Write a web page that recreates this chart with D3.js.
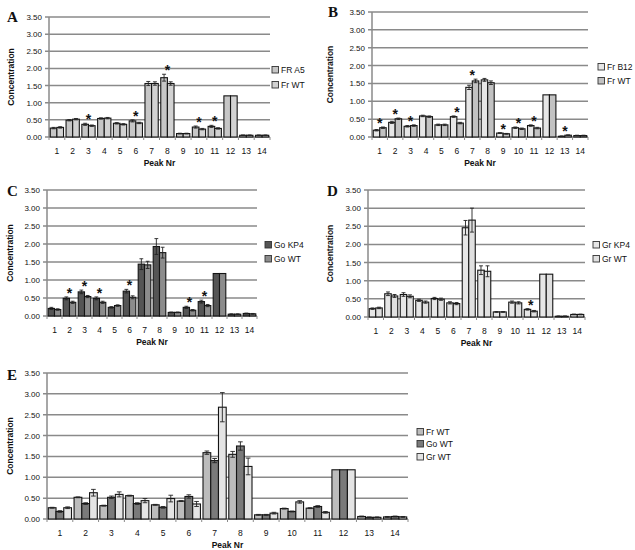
<!DOCTYPE html>
<html>
<head>
<meta charset="utf-8">
<script src="https://cdn.jsdelivr.net/npm/d3@7"></script>
<style>
body{margin:0;background:#fff;}
svg{font-family:"Liberation Sans",Arial,sans-serif;}
</style>
</head>
<body>
<div id="chart"></div>
<script>
var peaks=["1","2","3","4","5","6","7","8","9","10","11","12","13","14"];
var yTicks=[0,0.5,1,1.5,2,2.5,3,3.5];

// panel A
var frA5=[0.26,0.49,0.37,0.54,0.40,0.47,1.56,1.73,0.10,0.29,0.31,1.20,0.05,0.05];
var frA5Err=[0.02,0.02,0.03,0.02,0.02,0.03,0.06,0.10,0.01,0.03,0.03,0,0.01,0.01];
var frWT_A=[0.28,0.52,0.33,0.55,0.37,0.41,1.56,1.56,0.10,0.23,0.25,1.20,0.05,0.05];
var frWT_AErr=[0.02,0.02,0.02,0.02,0.02,0.02,0.05,0.05,0.01,0.02,0.02,0,0.01,0.01];
var starsA=["3","6","8","10","11"];
// panel B
var frB12=[0.19,0.41,0.30,0.59,0.34,0.57,1.39,1.60,0.11,0.26,0.32,1.18,0.02,0.04];
var frB12Err=[0.02,0.03,0.02,0.02,0.02,0.02,0.06,0.04,0.01,0.02,0.02,0,0.01,0.01];
var frWT_B=[0.26,0.51,0.32,0.57,0.34,0.39,1.57,1.52,0.09,0.23,0.25,1.18,0.05,0.04];
var frWT_BErr=[0.02,0.02,0.02,0.02,0.02,0.02,0.05,0.05,0.01,0.02,0.02,0,0.01,0.01];
var starsB=["1","2","3","6","7","9","10","11","13"];
// panel C
var goKP4=[0.21,0.49,0.67,0.49,0.24,0.69,1.44,1.93,0.10,0.24,0.40,1.18,0.05,0.07];
var goKP4Err=[0.03,0.04,0.05,0.04,0.02,0.05,0.15,0.22,0.01,0.03,0.04,0,0.01,0.01];
var goWT_C=[0.18,0.38,0.54,0.38,0.29,0.52,1.42,1.76,0.10,0.16,0.29,1.18,0.05,0.06];
var goWT_CErr=[0.02,0.03,0.03,0.03,0.02,0.04,0.10,0.15,0.01,0.02,0.03,0,0.01,0.01];
var starsC=["2","3","4","6","10","11"];
// panel D
var grKP4=[0.23,0.64,0.62,0.46,0.51,0.39,2.46,1.29,0.14,0.41,0.21,1.18,0.02,0.07];
var grKP4Err=[0.02,0.05,0.05,0.03,0.03,0.03,0.20,0.12,0.01,0.03,0.02,0,0.01,0.01];
var grWT_D=[0.25,0.58,0.57,0.41,0.49,0.37,2.67,1.26,0.14,0.39,0.16,1.18,0.02,0.07];
var grWT_DErr=[0.02,0.04,0.04,0.03,0.03,0.03,0.33,0.15,0.01,0.03,0.02,0,0.01,0.01];
var starsD=["11"];
// panel E
var frWT_E=[0.27,0.52,0.32,0.56,0.34,0.43,1.59,1.55,0.10,0.25,0.26,1.18,0.06,0.05];
var frWT_EErr=[0.01,0.01,0.01,0.01,0.01,0.01,0.04,0.07,0.01,0.01,0.01,0,0.01,0.01];
var goWT_E=[0.18,0.37,0.52,0.37,0.28,0.54,1.40,1.75,0.10,0.18,0.30,1.18,0.04,0.06];
var goWT_EErr=[0.02,0.02,0.03,0.02,0.02,0.04,0.05,0.10,0.01,0.01,0.02,0,0.01,0.01];
var grWT_E=[0.27,0.63,0.59,0.44,0.49,0.36,2.68,1.26,0.14,0.41,0.16,1.18,0.04,0.05];
var grWT_EErr=[0.02,0.08,0.06,0.05,0.08,0.06,0.35,0.20,0.02,0.03,0.02,0,0.01,0.01];
var starsE=[];

var svg=d3.select("#chart").append("svg")
	.attr("width",635)
	.attr("height",550);

function panel(p){
	var x=d3.scaleBand().domain(peaks).range([p.left,p.right]).paddingInner(p.pad).paddingOuter(p.pad/2);
	var xs=d3.scaleBand().domain(d3.range(p.series.length)).range([0,x.bandwidth()]);
	var y=d3.scaleLinear().domain([0,3.5]).range([p.bottom,p.top]);
	var g=svg.append("g");

	// gridlines
	g.selectAll(".grid").data(yTicks).enter().append("line")
		.attr("x1",p.left-4).attr("x2",p.right)
		.attr("y1",function(d){return y(d);}).attr("y2",function(d){return y(d);})
		.attr("stroke","#8a8a8a").attr("stroke-width",1.5);
	g.append("line").attr("x1",p.left).attr("x2",p.left)
		.attr("y1",p.top).attr("y2",p.bottom)
		.attr("stroke","#8a8a8a").attr("stroke-width",1.5);
	// y labels
	g.selectAll(".yl").data(yTicks).enter().append("text")
		.attr("x",p.left-7).attr("y",function(d){return y(d)+3;})
		.attr("text-anchor","end").attr("font-size",8).attr("fill","#111")
		.text(function(d){return d3.format(".2f")(d);});
	// x ticks between categories
	g.selectAll(".xt").data(d3.range(15)).enter().append("line")
		.attr("x1",function(i){return p.left+i*(p.right-p.left)/14;})
		.attr("x2",function(i){return p.left+i*(p.right-p.left)/14;})
		.attr("y1",p.bottom).attr("y2",p.bottom+3)
		.attr("stroke","#8a8a8a").attr("stroke-width",1);
	g.selectAll(".xl").data(peaks).enter().append("text")
		.attr("x",function(d){return x(d)+x.bandwidth()/2;})
		.attr("y",p.bottom+17)
		.attr("text-anchor","middle").attr("font-size",8.5).attr("fill","#111")
		.text(function(d){return d;});

	// bars
	p.series.forEach(function(s,si){
		var bx=function(d,i){return x(peaks[i])+xs(si);};
		g.selectAll(".b"+si).data(s.values).enter().append("rect")
			.attr("x",bx)
			.attr("y",function(d){return y(d);})
			.attr("width",xs.bandwidth())
			.attr("height",function(d){return p.bottom-y(d);})
			.attr("fill",s.color).attr("stroke","#141414").attr("stroke-width",1.1);
		var cw=xs.bandwidth()*0.3;
		s.err.forEach(function(e,i){
			if(!e)return;
			var cx=x(peaks[i])+xs(si)+xs.bandwidth()/2;
			var v=s.values[i];
			g.append("line").attr("x1",cx).attr("x2",cx)
				.attr("y1",y(v-e)).attr("y2",y(v+e))
				.attr("stroke","#222").attr("stroke-width",0.9);
			[v-e,v+e].forEach(function(t){
				g.append("line").attr("x1",cx-cw).attr("x2",cx+cw)
					.attr("y1",y(t)).attr("y2",y(t))
					.attr("stroke","#222").attr("stroke-width",0.9);
			});
		});
	});

	// significance stars
	p.stars.forEach(function(c){
		var i=peaks.indexOf(c);
		var top=d3.max(p.series,function(s){return s.values[i]+s.err[i];});
		g.append("text")
			.attr("x",x(c)+x.bandwidth()/2)
			.attr("y",y(top)+1)
			.attr("text-anchor","middle").attr("font-size",14).attr("font-weight","bold")
			.attr("fill","#111").text("*");
	});

	// axis titles
	g.append("text")
		.attr("transform","translate("+p.ylab+","+((p.top+p.bottom)/2)+") rotate(-90)")
		.attr("text-anchor","middle").attr("font-size",8.5).attr("font-weight","bold")
		.attr("fill","#111").text("Concentration");
	g.append("text")
		.attr("x",(p.left+p.right)/2).attr("y",p.bottom+29)
		.attr("text-anchor","middle").attr("font-size",8.5).attr("font-weight","bold")
		.attr("fill","#111").text("Peak Nr");
	// panel letter
	g.append("text")
		.attr("x",p.lx).attr("y",p.ly)
		.attr("font-family","Liberation Serif,Times New Roman,serif")
		.attr("font-size",15).attr("font-weight","bold").attr("fill","#111")
		.text(p.letter);

	// legend
	p.series.forEach(function(s,si){
		var ly=p.legY[si];
		g.append("rect").attr("x",p.legX).attr("y",ly-5.5).attr("width",6.5).attr("height",6.5)
			.attr("fill",s.color).attr("stroke","#333").attr("stroke-width",0.9);
		g.append("text").attr("x",p.legX+9).attr("y",ly+1)
			.attr("font-size",8.5).attr("fill","#111").text(s.name);
	});
}

panel({letter:"A",lx:7,ly:22,left:49,right:270,top:17,bottom:137,pad:0.16,ylab:14,
	legX:272,legY:[72,87],stars:starsA,
	series:[{name:"FR A5",values:frA5,err:frA5Err,color:"#c6c6c6"},
		{name:"Fr WT",values:frWT_A,err:frWT_AErr,color:"#d2d2d2"}]});
panel({letter:"B",lx:328,ly:17,left:372,right:588,top:12,bottom:137,pad:0.16,ylab:333,
	legX:598,legY:[69,83],stars:starsB,
	series:[{name:"Fr B12",values:frB12,err:frB12Err,color:"#e6e6e6"},
		{name:"Fr WT",values:frWT_B,err:frWT_BErr,color:"#c2c2c2"}]});
panel({letter:"C",lx:7,ly:196,left:47,right:257,top:190,bottom:316,pad:0.16,ylab:13,
	legX:265,legY:[247,261],stars:starsC,
	series:[{name:"Go KP4",values:goKP4,err:goKP4Err,color:"#555555"},
		{name:"Go WT",values:goWT_C,err:goWT_CErr,color:"#8c8c8c"}]});
panel({letter:"D",lx:327,ly:196,left:368,right:585,top:190,bottom:317,pad:0.16,ylab:333,
	legX:593,legY:[247,261],stars:starsD,
	series:[{name:"Gr KP4",values:grKP4,err:grKP4Err,color:"#e6e6e6"},
		{name:"Gr WT",values:grWT_D,err:grWT_DErr,color:"#e0e0e0"}]});
panel({letter:"E",lx:7,ly:380,left:47,right:408,top:373,bottom:519,pad:0.1,ylab:13,
	legX:417,legY:[434,446,459],stars:starsE,
	series:[{name:"Fr WT",values:frWT_E,err:frWT_EErr,color:"#bcbcbc"},
		{name:"Go WT",values:goWT_E,err:goWT_EErr,color:"#7a7a7a"},
		{name:"Gr WT",values:grWT_E,err:grWT_EErr,color:"#e4e4e4"}]});
</script>
</body>
</html>
